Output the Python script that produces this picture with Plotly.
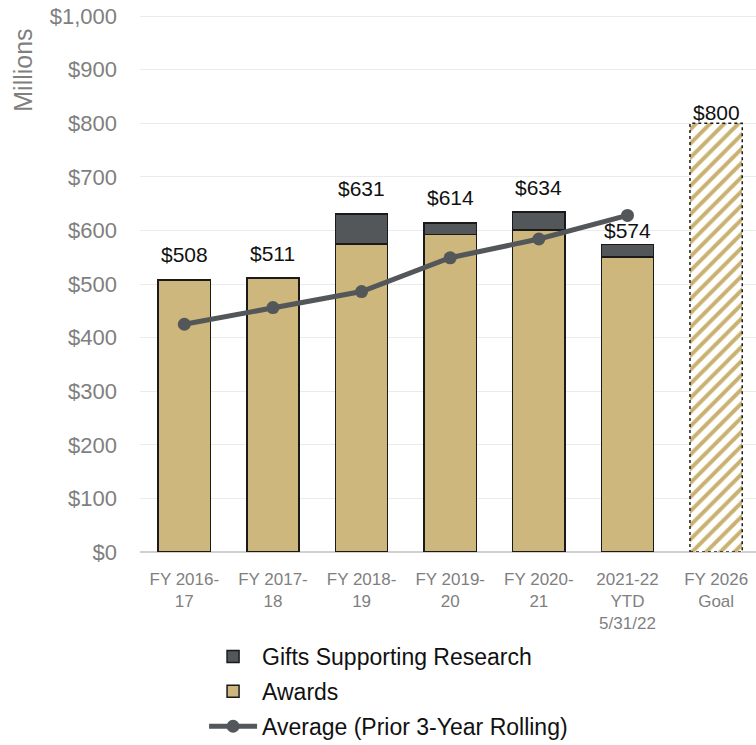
import plotly.graph_objects as go

categories = ["FY 2016-<br>17", "FY 2017-<br>18", "FY 2018-<br>19", "FY 2019-<br>20",
              "FY 2020-<br>21", "2021-22<br>YTD<br>5/31/22"]
goal_category = "FY 2026<br>Goal"
awards = [508, 511, 575, 592, 601, 550]
gifts = [None, None, 56, 22, 33, 24]
totals = [508, 511, 631, 614, 634, 574]
rolling_avg = [425, 456, 486, 549, 584, 628]
goal_value = 800

TAN = "#CDB77C"
STEEL = "#53575A"
GRAY = "#7F7F7F"
FONT = "Liberation Sans"
BAR_W = 0.59

fig = go.Figure()

fig.add_trace(go.Bar(
    x=categories, y=awards, name="Awards", width=BAR_W,
    marker=dict(color=TAN, line=dict(color="#1a1a1a", width=1.5)),
    legendrank=2, legendgroup="a",
))
fig.add_trace(go.Bar(
    x=categories, y=gifts, name="Gifts Supporting Research", width=BAR_W,
    marker=dict(color=STEEL, line=dict(color="#1a1a1a", width=1.5)),
    legendrank=1, legendgroup="g",
))
fig.add_trace(go.Scatter(
    x=categories, y=rolling_avg, name="Average (Prior 3-Year Rolling)",
    mode="lines+markers", line=dict(color=STEEL, width=5),
    marker=dict(size=13, color=STEEL),
    legendrank=3, legendgroup="r",
))
fig.add_trace(go.Bar(
    x=[goal_category], y=[goal_value], width=BAR_W, showlegend=False,
    marker=dict(color="white", line=dict(width=0),
                pattern=dict(shape="/", fgcolor="#C9B170", bgcolor="white",
                             size=10, solidity=0.4, fgopacity=1)),
))

# dashed outline round the goal bar
goal_idx = len(categories)
fig.add_shape(type="rect", xref="x", yref="y",
              x0=goal_idx - BAR_W / 2, x1=goal_idx + BAR_W / 2, y0=0, y1=goal_value,
              line=dict(color="#1a1a1a", width=1.5, dash="dot"))

# value labels
label_shift = [25, 25, 25, 25, 25, 14]
for cat, tot, sh in zip(categories, totals, label_shift):
    fig.add_annotation(x=cat, y=tot, text=f"${tot}", showarrow=False,
                       yshift=sh, font=dict(size=21, color="#111111", family=FONT))
fig.add_annotation(x=goal_category, y=goal_value, text=f"${goal_value}", showarrow=False,
                   yshift=11, font=dict(size=21, color="#111111", family=FONT))

fig.add_annotation(xref="paper", yref="paper", x=-0.19, y=0.898, xanchor="center",
                   yanchor="middle", text="Millions", textangle=-90, showarrow=False,
                   font=dict(size=25, color=GRAY, family=FONT))

fig.update_layout(
    width=756, height=745,
    margin=dict(l=140, r=0, t=15, b=193, autoexpand=False),
    barmode="stack",
    plot_bgcolor="white", paper_bgcolor="white",
    font=dict(family=FONT, color=GRAY),
    showlegend=True,
    legend=dict(x=0.104, y=-0.1546, xanchor="left", yanchor="top",
                traceorder="grouped", tracegroupgap=2, itemwidth=48,
                font=dict(size=23, color="#111111", family=FONT)),
    xaxis=dict(range=[-0.5, 6.45], tickfont=dict(size=17, color=GRAY),
               showline=False, categoryorder="array", automargin=False,
               ticklabelstandoff=15,
               categoryarray=categories + [goal_category]),
    yaxis=dict(range=[0, 1002], dtick=100, tickprefix="$", tickformat=",",
               tickfont=dict(size=22, color=GRAY), gridcolor="#EBEBEB",
               zeroline=True, zerolinecolor="#D0D0D0", zerolinewidth=1.5,
               ticklabelstandoff=22, automargin=False, ticklabeloverflow="allow"),
)

# page body margin removed so the figure sits at the window's top-left corner
fig.write_html("out.html", config={"displayModeBar": False},
               post_script="document.body.style.margin = '0';")
